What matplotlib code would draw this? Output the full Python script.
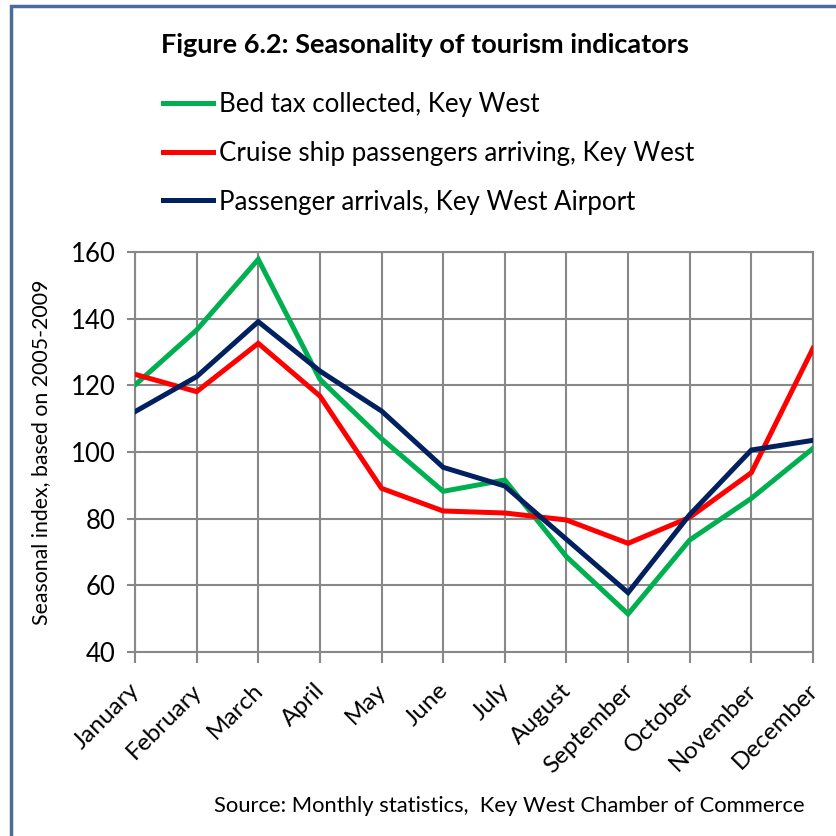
import matplotlib
matplotlib.use("Agg")
import matplotlib.pyplot as plt
import matplotlib.transforms as mtransforms
from matplotlib.patches import Rectangle
from matplotlib.lines import Line2D

months = ["January", "February", "March", "April", "May", "June", "July",
          "August", "September", "October", "November", "December"]
bed_tax = [120.1, 136.6, 157.8, 121.8, 104.0, 88.2, 91.6, 68.6, 51.4, 73.6, 86.1, 101.1]
cruise = [123.3, 118.1, 132.6, 116.8, 89.1, 82.3, 81.7, 79.6, 72.6, 80.4, 93.8, 131.1]
airport = [112.1, 122.6, 139.1, 124.3, 112.3, 95.4, 89.8, 73.8, 57.8, 81.2, 100.6, 103.5]
series_names = ["Bed tax collected, Key West",
                "Cruise ship passengers arriving, Key West",
                "Passenger arrivals, Key West Airport"]
colors = ["#00B050", "#FF0000", "#002060"]

plt.rcParams['font.family'] = ['Lato', 'DejaVu Sans']

fig = plt.figure(figsize=(8.36, 8.36), dpi=100)
ax = fig.add_axes([135/836, 1-652/836, (813-135)/836, 400/836])

x = list(range(len(months)))
for vals, c, name in zip([bed_tax, cruise, airport], colors, series_names):
    ax.plot(x, vals, color=c, lw=3.6, solid_joinstyle='miter', label=name, zorder=3)

ax.set_xlim(0, 11)
ax.set_ylim(40, 160)
ax.set_yticks(range(40, 161, 20))
ax.set_xticks(x)
ax.set_xticklabels(months, rotation=45, ha='right', va='top', rotation_mode='anchor',
                   fontsize=17.5)
ax.tick_params(axis='y', labelsize=18.5, length=6, width=1.5, color='#888888', pad=8)
ax.tick_params(axis='x', length=8, width=1.5, color='#888888', pad=12)
shift = mtransforms.ScaledTranslation(-6/100, 0, fig.dpi_scale_trans)
for lbl in ax.get_xticklabels():
    lbl.set_transform(lbl.get_transform() + shift)
ax.grid(True, color='#888888', lw=1.5)
ax.set_axisbelow(True)
for s in ax.spines.values():
    s.set_color('#888888')
    s.set_linewidth(1.5)
ax.set_ylabel("Seasonal index, based on 2005-2009", fontsize=15.3, labelpad=14)

fig.text(425/836, 1-45/836, "Figure 6.2: Seasonality of tourism indicators",
         ha='center', va='center', fontsize=19.5, fontweight='bold')

handles = [Line2D([], [], color=c, lw=3.6) for c in colors]
fig.legend(handles, series_names, loc='upper left', bbox_to_anchor=(163/836, 1-92/836),
           frameon=False, fontsize=18.6, handlelength=1.95, handletextpad=0.2,
           labelspacing=0.92, borderpad=0, borderaxespad=0)

fig.text(509/836, 1-806/836, "Source: Monthly statistics,  Key West Chamber of Commerce",
         ha='center', va='center', fontsize=15.8)

fig.patches.append(Rectangle((11/836, -0.1), 1.2, 1-6/836+0.1, transform=fig.transFigure,
                             fill=False, edgecolor='#4A6C9B', lw=2.5))

fig.savefig("out.png", dpi=100)
